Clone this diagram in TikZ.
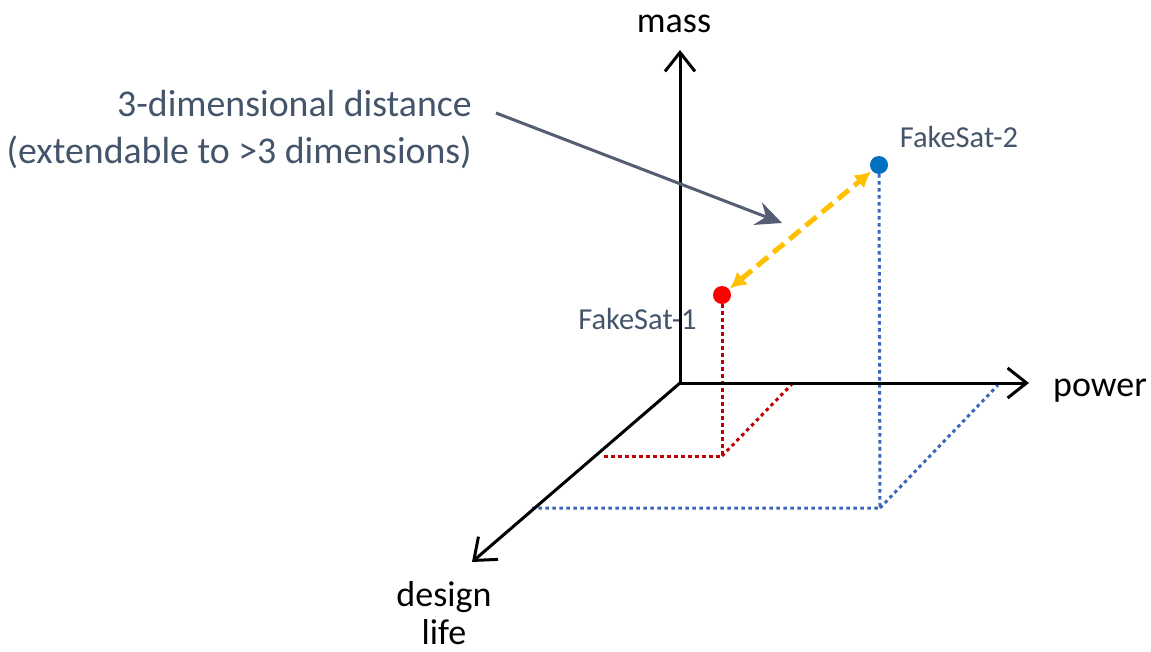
\documentclass[tikz,border=0pt]{standalone}
\usepackage{fontspec}
\setmainfont{Carlito}
\usetikzlibrary{arrows.meta}
\definecolor{slate}{HTML}{44546A}
\definecolor{arrowgray}{HTML}{545D71}
\definecolor{satred}{HTML}{FF0000}
\definecolor{satblue}{HTML}{0070C0}
\definecolor{projred}{HTML}{C00000}
\definecolor{projblue}{HTML}{3A67B8}
\definecolor{distyellow}{HTML}{FFC000}
\tikzset{
  axis/.style={line width=3pt, black, -{Straight Barb[length=19pt,width=30pt,line width=3pt]}},
  axlabel/.style={font=\fontsize{36}{40}\selectfont, text=black, inner sep=0pt, anchor=base},
  satlabel/.style={font=\fontsize{30.5}{34}\selectfont, text=slate, inner sep=0pt, anchor=base},
  sat/.style={circle, inner sep=0pt, minimum size=18pt, draw=none},
  projline/.style={line width=3pt, dash pattern=on 3.5pt off 3.5pt},
  distarrow/.style={line width=5pt, distyellow, dash pattern=on 14pt off 7pt,
    {Latex[length=16pt,width=17pt]}-{Latex[length=16pt,width=17pt]}},
  callout/.style={line width=3pt, arrowgray, -{Stealth[length=26pt,width=24pt,inset=9pt]}}
}
\begin{document}
\begin{tikzpicture}[x=1pt,y=-1pt]
\useasboundingbox (0,0) rectangle (1151,652);
% axes
\coordinate (O) at (680,383);
\coordinate (M) at (680,50);
\coordinate (P) at (1029,383);
\coordinate (D) at (472,562);
% projection corners
\coordinate (r1) at (722,456);
\coordinate (r2) at (601,456);
\coordinate (r3) at (793,383);
\coordinate (b1) at (880,508);
\coordinate (b2) at (532,508);
\coordinate (b3) at (998,385);
% labels
\node[satlabel] (l1) at (637.5,330) {FakeSat-1};
\node[satlabel] (l2) at (959,148) {FakeSat-2};
% projections
\node[sat, fill=satred] (s1) at (722,295) {};
\node[sat, fill=satblue] (s2) at (879,165) {};
\draw[projline, projred] (s1.south) -- (r1) -- (r2);
\draw[projline, projred] (r1) -- (r3);
\draw[projline, projblue] (s2.south) -- (b1) -- (b2);
\draw[projline, projblue] (b1) -- (b3);
% axes
\draw[axis] (O) -- (M);
\draw[axis] (O) -- (P);
\draw[axis] (O) -- (D);
\node[axlabel] (ml) at (674,33) {mass};
\node[axlabel] (pl) at (1100,396) {power};
\node[axlabel, align=center, anchor=north] (dl) at (444,581) {design\\[-2pt]life};
% distance
\draw[distarrow, shorten <=1pt, shorten >=1pt] (s1) -- (s2);
\node[font=\fontsize{37.8}{47}\selectfont, text=slate, align=right, anchor=north east, inner sep=0pt] (txt) at (472,90) {3-dimensional distance\\(extendable to >3 dimensions)};
\coordinate (ctip) at (782,223);
\draw[callout] (496,113) -- (ctip);
\end{tikzpicture}
\end{document}
